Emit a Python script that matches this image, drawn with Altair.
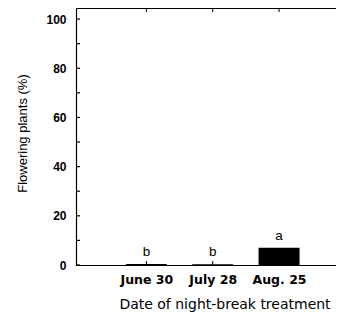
import json
import altair as alt
import pandas as pd

dates = ["June 30", "July 28", "Aug. 25"]
flowering = [0.4, 0.3, 7.0]
letters = ["b", "b", "a"]
y_tick_values = [0, 10, 20, 30, 40, 50, 60, 70, 80, 90, 100]
y_label_values = [0, 20, 40, 60, 80, 100]

df = pd.DataFrame({
    "pos": list(range(1, len(dates) + 1)),
    "date": dates,
    "pct": flowering,
    "letter": letters,
})
ticks_df = pd.DataFrame({"v": y_tick_values})

W, H = 260, 257
FONT = "Liberation Sans"
xscale = alt.Scale(domain=[0.0145, 3.783], nice=False, zero=False)
yscale = alt.Scale(domain=[0, 104.5], nice=False)
label_expr = json.dumps(dates) + "[datum.value - 1]"

base = alt.Chart(df)

bars = base.mark_bar(size=41, color="black").encode(
    x=alt.X("pos:Q", scale=xscale, axis=alt.Axis(
        orient="bottom", values=[1, 2, 3], labelExpr=label_expr,
        ticks=False, domain=True, domainColor="black", domainWidth=1.2,
        labelFont="DejaVu Sans", labelFontSize=12.5, labelFontWeight="bold", labelColor="black",
        labelPadding=8, grid=False,
        title="Date of night-break treatment", titleFont="DejaVu Sans", titleFontSize=14,
        titleFontWeight="normal", titleColor="black",
        titleX=148.5, titleY=39, titleAlign="center", titleBaseline="middle")),
    y=alt.Y("pct:Q", scale=yscale, axis=alt.Axis(
        orient="left", values=y_label_values, ticks=False, domain=True,
        domainColor="black", domainWidth=1.2, grid=False,
        labelFont=FONT, labelFontSize=12, labelFontWeight="bold", labelColor="black",
        labelPadding=10,
        title="Flowering plants (%)", titleFont=FONT, titleFontSize=13,
        titleFontWeight="normal", titleColor="black",
        titleX=-54, titleY=125, titleAngle=270, titleAlign="center", titleBaseline="middle")),
)

text = base.mark_text(baseline="bottom", dy=-5, fontSize=13.5, font=FONT, color="black").encode(
    x=alt.X("pos:Q", scale=xscale, axis=None),
    y=alt.Y("pct:Q", scale=yscale, axis=None),
    text="letter:N",
)

# top frame line
top_line = base.mark_point(opacity=0).encode(
    x=alt.X("pos:Q", scale=xscale, axis=alt.Axis(
        orient="top", values=[1, 2, 3], labels=False, ticks=False, domain=True,
        domainColor="black", domainWidth=1.2, grid=False, title=None)),
    y=alt.Y("pct:Q", scale=yscale, axis=None),
)

# inward ticks on the left axis
yticks = alt.Chart(ticks_df).mark_tick(
    orient="horizontal", size=4, thickness=1.2, color="black", opacity=1
).encode(
    x=alt.value(2),
    y=alt.Y("v:Q", scale=yscale, axis=None),
)

# inward ticks at the categories, bottom and top
xticks_bottom = base.mark_tick(
    orient="vertical", size=4, thickness=1, color="black", opacity=1
).encode(
    x=alt.X("pos:Q", scale=xscale, axis=None),
    y=alt.value(H - 2),
)
xticks_top = base.mark_tick(
    orient="vertical", size=4, thickness=1, color="black", opacity=1
).encode(
    x=alt.X("pos:Q", scale=xscale, axis=None),
    y=alt.value(2),
)

chart = alt.layer(bars, text, top_line, yticks, xticks_bottom, xticks_top).resolve_axis(
    x="independent", y="independent"
).properties(
    width=W, height=H,
    autosize=alt.AutoSizeParams(type="none"),
    padding={"left": 68, "top": 0, "right": 0, "bottom": 48},
).configure_view(stroke=None).configure(background="white")

chart.save("out.html", embed_options={"renderer": "svg", "actions": False})
